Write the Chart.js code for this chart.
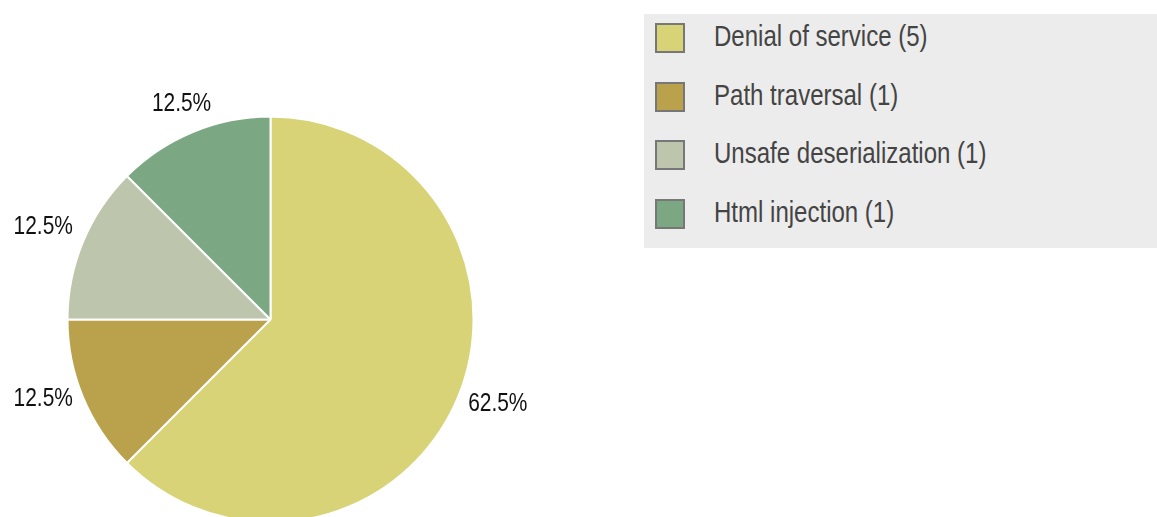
<!DOCTYPE html>
<html>
<head>
<meta charset="utf-8">
<script src="https://cdn.jsdelivr.net/npm/chart.js@4/dist/chart.umd.min.js"></script>
<style>
  html, body { margin: 0; padding: 0; width: 1157px; height: 517px; overflow: hidden; background: #fff; }
  #wrap { position: absolute; left: 0; top: 0; width: 541px; height: 639px; }
  #legend { position: absolute; left: 644px; top: 14px; width: 513px; height: 234px; background: #ececec;
    font-family: "Liberation Sans", Arial, sans-serif; font-size: 29.3px; color: #444; }
  .row { position: absolute; left: 11px; height: 30px; }
  .sw { position: absolute; left: 0; top: 0; width: 30px; height: 30px; box-sizing: border-box; border: 2px solid #777; }
  .lt { position: absolute; left: 59px; top: -2px; line-height: 30px; white-space: nowrap;
    transform: scaleX(0.82); transform-origin: 0 50%; }
</style>
</head>
<body>
<div id="wrap"><canvas id="c" width="541" height="639"></canvas></div>
<div id="legend"></div>
<script>
const categories = ["Denial of service", "Path traversal", "Unsafe deserialization", "Html injection"];
const counts = [5, 1, 1, 1];
const colors = ["#d9d378", "#b9a24b", "#bdc5ad", "#7ba882"];

const total = counts.reduce((a, b) => a + b, 0);

// HTML legend built from the data arrays
const legend = document.getElementById('legend');
categories.forEach((name, i) => {
  const row = document.createElement('div');
  row.className = 'row';
  row.style.top = (9 + i * 58.7) + 'px';
  const sw = document.createElement('div');
  sw.className = 'sw';
  sw.style.background = colors[i];
  const lt = document.createElement('div');
  lt.className = 'lt';
  lt.textContent = name + ' (' + counts[i] + ')';
  row.appendChild(sw); row.appendChild(lt);
  legend.appendChild(row);
});

const NARROW = 0.82;
const pctLabels = {
  id: 'pctLabels',
  afterDatasetsDraw(chart) {
    const ctx = chart.ctx;
    const meta = chart.getDatasetMeta(0);
    ctx.save();
    ctx.font = '25.5px "Liberation Sans", Arial, sans-serif';
    ctx.fillStyle = '#111';
    ctx.textAlign = 'center';
    ctx.textBaseline = 'alphabetic';
    meta.data.forEach((arc, i) => {
      const p = arc.getProps(['x', 'y', 'startAngle', 'endAngle', 'outerRadius'], true);
      const mid = (p.startAngle + p.endAngle) / 2;
      const txt = (counts[i] / total * 100).toFixed(1) + '%';
      const w = ctx.measureText(txt).width * NARROW;
      const c = Math.cos(mid), s = Math.sin(mid);
      const R = p.outerRadius + 23;
      const x = p.x + R * c + Math.sign(c) * (w / 2) * Math.max(0, Math.abs(c) - 0.3);
      const y = p.y + R * s + 0.5 + Math.max(0, c) * 5;
      ctx.save();
      ctx.translate(x, y);
      ctx.scale(NARROW, 1);
      ctx.fillText(txt, 0, 0);
      ctx.restore();
    });
    ctx.restore();
  }
};

new Chart(document.getElementById('c'), {
  type: 'pie',
  data: {
    labels: categories,
    datasets: [{
      data: counts,
      backgroundColor: colors,
      borderColor: '#ffffff',
      borderWidth: 2,
      hoverOffset: 0
    }]
  },
  options: {
    responsive: false,
    animation: false,
    events: [],
    layout: { padding: { left: 66, right: 66, top: 115.5, bottom: 115.5 } },
    plugins: { legend: { display: false }, tooltip: { enabled: false } }
  },
  plugins: [pctLabels]
});
</script>
</body>
</html>
